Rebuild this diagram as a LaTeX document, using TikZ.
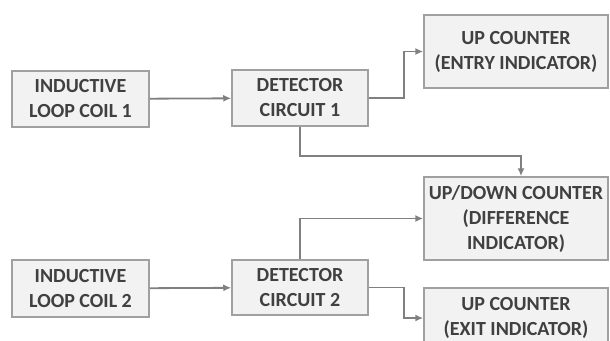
\documentclass[tikz,border=0pt]{standalone}
\usepackage{fontspec}
\setmainfont{Carlito}
\usepackage{tikz}
\usetikzlibrary{arrows.meta,shadows}
\definecolor{boxfill}{HTML}{F2F2F2}
\definecolor{boxline}{HTML}{A0A0A0}
\definecolor{wire}{HTML}{808080}
\definecolor{ink}{HTML}{404040}

\begin{document}
\begin{tikzpicture}[x=1pt,y=-1pt,>=Latex,
  blockbox/.style={draw=boxline,line width=1.5pt,fill=boxfill,align=center,inner sep=0pt,
    text=ink,font=\bfseries\fontsize{20}{25}\selectfont,
    drop shadow={opacity=0.25,shadow xshift=1.2pt,shadow yshift=-1.2pt}},
  conn/.style={->,draw=wire,line width=1.8pt,arrows={-Latex[length=8pt,width=7pt]}}]
  \clip (0,0) rectangle (610,340);
  \fill[white] (0,0) rectangle (610,340);
  % inputs on the left
  \node[blockbox,minimum width=137pt,minimum height=56pt] (coil1) at (80.5,99) {INDUCTIVE\\LOOP COIL 1};
  \node[blockbox,minimum width=137pt,minimum height=57pt] (coil2) at (80.5,288.5) {INDUCTIVE\\LOOP COIL 2};
  % detectors
  \node[blockbox,minimum width=136pt,minimum height=56pt] (det1) at (300,98) {DETECTOR\\CIRCUIT 1};
  \node[blockbox,minimum width=136pt,minimum height=55pt] (det2) at (300,287.5) {DETECTOR\\CIRCUIT 2};
  % counters on the right
  \node[blockbox,minimum width=184pt,minimum height=73pt] (entry) at (516,51.5) {UP COUNTER\\(ENTRY INDICATOR)};
  \node[blockbox,minimum width=184pt,minimum height=83pt] (updown) at (516,218.5) {UP/DOWN COUNTER\\(DIFFERENCE\\INDICATOR)};
  \node[blockbox,minimum width=184pt,minimum height=60pt] (exit) at (516,318) {UP COUNTER\\(EXIT INDICATOR)};
  % coils to detectors
  \draw[conn] (coil1) -- (det1);
  \draw[conn] (coil2) -- (det2);
  % detector 1 feeds entry and difference
  \draw[conn] (det1.east) -- ++(35,0) |- (entry.west);
  \draw[conn] (det1.south) -- ++(0,29) -| ([xshift=5pt]updown.north);
  % detector 2 feeds difference and exit
  \draw[conn] (det2.north) |- (updown.west);
  \draw[conn] (det2.east) -- ++(35,0) |- (exit.west);
\end{tikzpicture}
\end{document}
